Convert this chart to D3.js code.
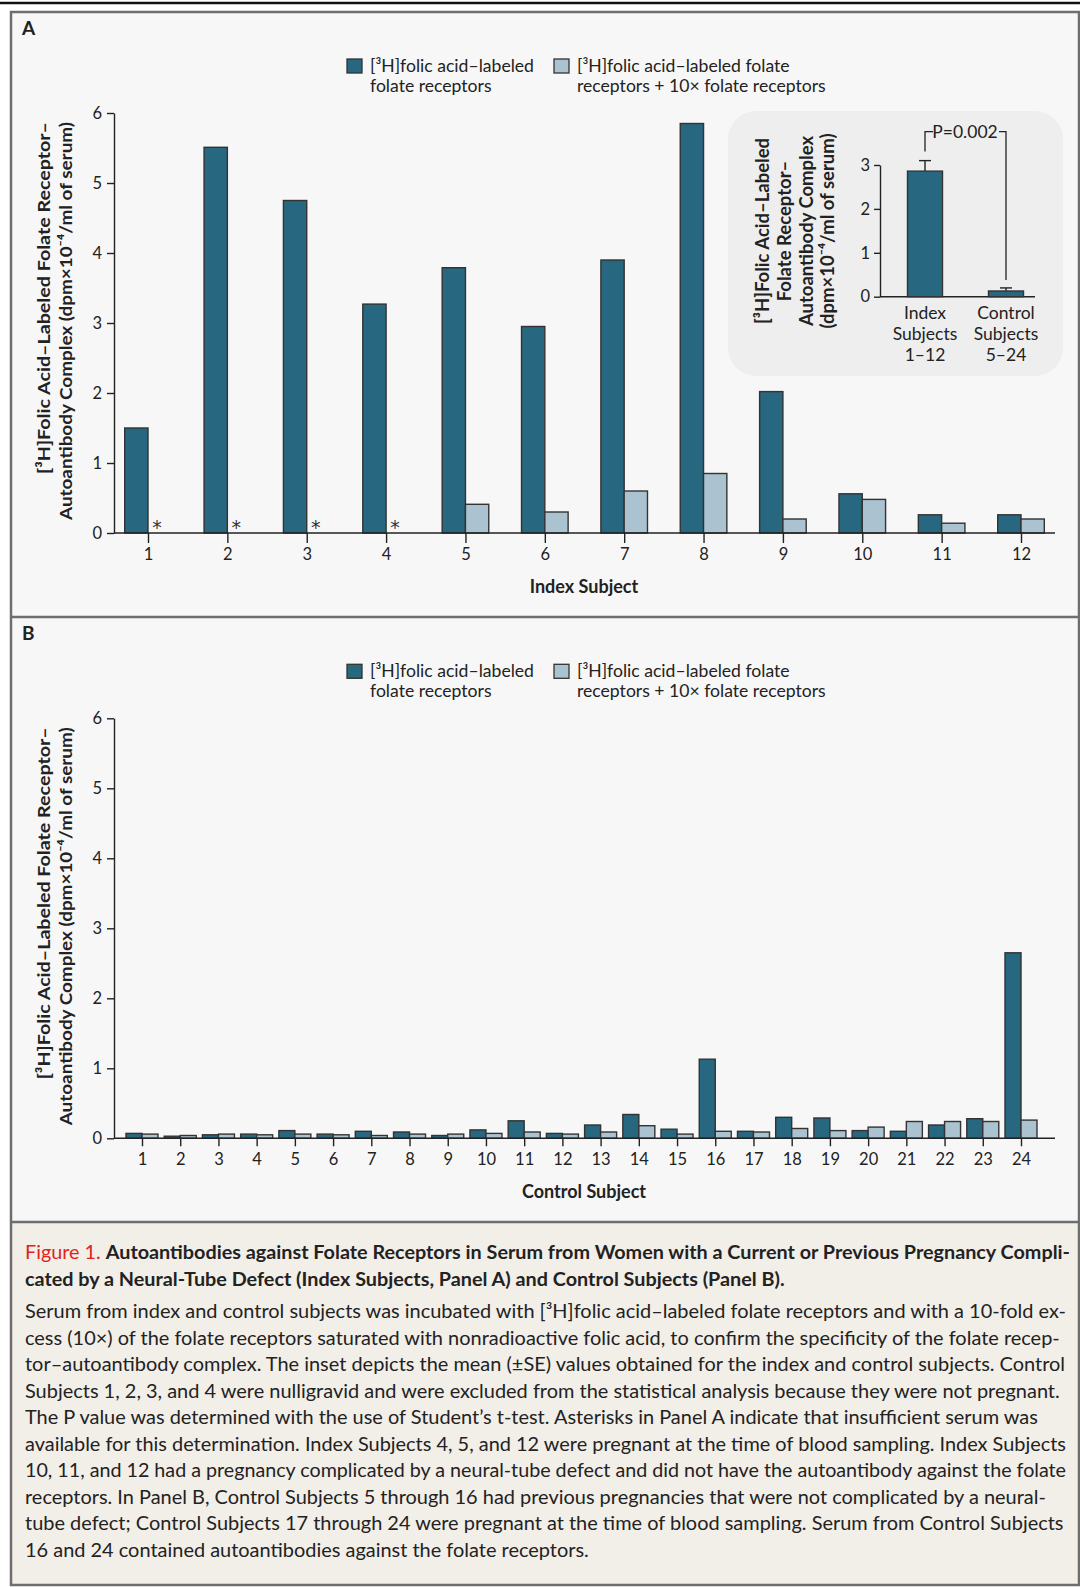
<!DOCTYPE html>
<html>
<head>
<meta charset="utf-8">
<script src="https://d3js.org/d3.v7.min.js"></script>
<style>
 body { margin:0; background:#fff; }
 svg text { font-family: Lato, "Open Sans", sans-serif; fill:#222; }
 .tick text { font-size:16.5px; }
</style>
</head>
<body>
<div id="chart"></div>
<script>
// data
var indexSubjects = ["1","2","3","4","5","6","7","8","9","10","11","12"];
var indexLabeled  = [1.50, 5.51, 4.75, 3.27, 3.79, 2.95, 3.90, 5.85, 2.02, 0.56, 0.26, 0.26];
var indexBlocked  = [null, null, null, null, 0.41, 0.30, 0.60, 0.85, 0.20, 0.48, 0.14, 0.20];

var controlSubjects = ["1","2","3","4","5","6","7","8","9","10","11","12",
                       "13","14","15","16","17","18","19","20","21","22","23","24"];
var controlLabeled = [0.07, 0.03, 0.05, 0.06, 0.11, 0.06, 0.10, 0.09, 0.04, 0.12, 0.25, 0.07,
                      0.19, 0.34, 0.13, 1.13, 0.10, 0.30, 0.29, 0.11, 0.10, 0.19, 0.28, 2.65];
var controlBlocked = [0.06, 0.04, 0.06, 0.05, 0.06, 0.05, 0.04, 0.06, 0.06, 0.07, 0.09, 0.06,
                      0.09, 0.18, 0.06, 0.10, 0.09, 0.14, 0.11, 0.16, 0.24, 0.24, 0.24, 0.26];

var yTicks = [0, 1, 2, 3, 4, 5, 6];

var insetGroups = [["Index", "Subjects", "1\u201312"], ["Control", "Subjects", "5\u201324"]];
var insetMeans = [2.86, 0.13];
var insetSE    = [0.24, 0.07];
var insetTicks = [0, 1, 2, 3];
var pLabel = "P=0.002";

var legendLabels = [["[\u00b3H]folic acid\u2013labeled", "folate receptors"],
                    ["[\u00b3H]folic acid\u2013labeled folate", "receptors + 10\u00d7 folate receptors"]];
var yTitle = ["[\u00b3H]Folic Acid\u2013Labeled Folate Receptor\u2013",
              "Autoantibody Complex (dpm\u00d710\u207b\u2074/ml of serum)"];
var insetYTitle = ["[\u00b3H]Folic Acid\u2013Labeled", "Folate Receptor\u2013",
                   "Autoantibody Complex", "(dpm\u00d710\u207b\u2074/ml of serum)"];

var captionTitle = [
  ["Figure 1. ", "Autoantibodies against Folate Receptors in Serum from Women with a Current or Previous Pregnancy Compli-"],
  ["", "cated by a Neural-Tube Defect (Index Subjects, Panel A) and Control Subjects (Panel B)."]
];
var captionBody = [
  "Serum from index and control subjects was incubated with [\u00b3H]folic acid\u2013labeled folate receptors and with a 10-fold ex-",
  "cess (10\u00d7) of the folate receptors saturated with nonradioactive folic acid, to confirm the specificity of the folate recep-",
  "tor\u2013autoantibody complex. The inset depicts the mean (\u00b1SE) values obtained for the index and control subjects. Control",
  "Subjects 1, 2, 3, and 4 were nulligravid and were excluded from the statistical analysis because they were not pregnant.",
  "The P value was determined with the use of Student\u2019s t-test. Asterisks in Panel A indicate that insufficient serum was",
  "available for this determination. Index Subjects 4, 5, and 12 were pregnant at the time of blood sampling. Index Subjects",
  "10, 11, and 12 had a pregnancy complicated by a neural-tube defect and did not have the autoantibody against the folate",
  "receptors. In Panel B, Control Subjects 5 through 16 had previous pregnancies that were not complicated by a neural-",
  "tube defect; Control Subjects 17 through 24 were pregnant at the time of blood sampling. Serum from Control Subjects",
  "16 and 24 contained autoantibodies against the folate receptors."
];

var dark = "#276780", light = "#abc3d0", edge = "#333";
var W = 1080, H = 1587;
var fmt = d3.format("d");

var svg = d3.select("#chart").append("svg").attr("width", W).attr("height", H);

// frame + backgrounds
svg.append("rect").attr("x", 0).attr("y", 0).attr("width", W).attr("height", H).attr("fill", "#fff");
svg.append("rect").attr("x", 11).attr("y", 12).attr("width", 1068).attr("height", 605).attr("fill", "#f7f7f7");
svg.append("rect").attr("x", 11).attr("y", 617).attr("width", 1068).attr("height", 605).attr("fill", "#f7f7f7");
svg.append("rect").attr("x", 11).attr("y", 1222).attr("width", 1068).attr("height", 363).attr("fill", "#f2eee8");
svg.append("line").attr("x1", 0).attr("x2", W).attr("y1", 3).attr("y2", 3).attr("stroke", "#111").attr("stroke-width", 2.5);
svg.append("rect").attr("x", 11).attr("y", 12).attr("width", 1068).attr("height", 1573)
   .attr("fill", "none").attr("stroke", "#6e6e6e").attr("stroke-width", 2.5);
[617, 1222].forEach(function(yy) {
  svg.append("line").attr("x1", 11).attr("x2", 1079).attr("y1", yy).attr("y2", yy)
     .attr("stroke", "#6e6e6e").attr("stroke-width", 2.5);
});

function fitText(sel, len) {
  sel.attr("textLength", len).attr("lengthAdjust", "spacingAndGlyphs");
}

function panel(opt) {
  var g = svg.append("g").attr("transform", "translate(0," + opt.dy + ")");
  g.append("text").attr("x", 22).attr("y", 35).attr("font-size", 19).attr("font-weight", 700).text(opt.letter);

  // legend
  [dark, light].forEach(function(c, i) {
    var lx = [347, 554][i];
    g.append("rect").attr("x", lx).attr("y", 59).attr("width", 15).attr("height", 14)
     .attr("fill", c).attr("stroke", edge).attr("stroke-width", 1.3);
    var t = g.append("text").attr("x", lx + 23).attr("y", 71.5).attr("font-size", 17.6);
    legendLabels[i].forEach(function(s, k) {
      t.append("tspan").attr("x", lx + 23).attr("dy", k ? 20.5 : 0).text(s);
    });
  });

  var y = d3.scaleLinear().domain([0, 6]).range([533, 113]);
  var x = d3.scalePoint().domain(opt.cats).range(opt.xr);
  var bw = opt.bw;

  g.append("g").attr("transform", "translate(114,0)")
   .call(d3.axisLeft(y).tickValues(yTicks).tickFormat(fmt).tickSize(7).tickSizeOuter(0).tickPadding(5))
   .call(function(a) { a.selectAll("path,line").attr("stroke", "#222").attr("stroke-width", 1.4); });

  var rows = opt.cats.map(function(c, i) { return {c: c, a: opt.a[i], b: opt.b[i]}; });
  g.selectAll(".da").data(rows).enter().append("rect")
   .attr("x", function(d) { return x(d.c) - bw; }).attr("width", bw)
   .attr("y", function(d) { return y(d.a); }).attr("height", function(d) { return y(0) - y(d.a); })
   .attr("fill", dark).attr("stroke", edge).attr("stroke-width", 1.4);
  g.selectAll(".lb").data(rows.filter(function(d) { return d.b != null; })).enter().append("rect")
   .attr("x", function(d) { return x(d.c); }).attr("width", bw)
   .attr("y", function(d) { return y(d.b); }).attr("height", function(d) { return y(0) - y(d.b); })
   .attr("fill", light).attr("stroke", edge).attr("stroke-width", 1.4);
  // asterisks: no serum left for the blocked assay
  g.selectAll(".ast").data(rows.filter(function(d) { return d.b == null; })).enter().append("text")
   .attr("x", function(d) { return x(d.c) + 9; }).attr("y", y(0) + 1)
   .attr("text-anchor", "middle").attr("font-size", 19)
   .style("font-family", "'DejaVu Sans'").style("fill", "#333").text("*");

  g.append("g").attr("transform", "translate(0," + y(0) + ")")
   .call(d3.axisBottom(x).tickSize(opt.tick).tickPadding(opt.pad))
   .call(function(a) {
     a.select(".domain").remove();
     a.selectAll("line").attr("stroke", "#222").attr("stroke-width", 1.4);
   });
  g.append("line").attr("x1", 114).attr("x2", 1055).attr("y1", y(0)).attr("y2", y(0))
   .attr("stroke", "#222").attr("stroke-width", 1.4);

  g.append("text").attr("x", 584).attr("y", opt.titleY).attr("text-anchor", "middle")
   .attr("font-size", 18).attr("font-weight", 700).text(opt.title);

  yTitle.forEach(function(s, k) {
    var t = g.append("text").attr("transform", "translate(" + [50, 71.5][k] + ",122) rotate(-90)")
     .attr("text-anchor", "end").attr("font-size", 17.8).attr("font-weight", 700).text(s);
    fitText(t, [352, 398][k]);
  });
  return g;
}

var gA = panel({dy: 0, letter: "A", cats: indexSubjects, a: indexLabeled, b: indexBlocked,
                xr: [148, 1021], bw: 23.3, tick: 10, pad: 5, title: "Index Subject", titleY: 593});
panel({dy: 605.3, letter: "B", cats: controlSubjects, a: controlLabeled, b: controlBlocked,
       xr: [142, 1021], bw: 16, tick: 8, pad: 7, title: "Control Subject", titleY: 593});

// inset in panel A
var inset = gA.append("g");
inset.append("rect").attr("x", 728).attr("y", 111).attr("width", 335).attr("height", 265)
     .attr("rx", 28).attr("fill", "#eeeeee");
var iy = d3.scaleLinear().domain([0, 3]).range([296.7, 165]);
var ix = d3.scalePoint().domain([0, 1]).range([925, 1006]);
inset.append("g").attr("transform", "translate(880,0)")
     .call(d3.axisLeft(iy).tickValues(insetTicks).tickFormat(fmt).tickSize(6).tickSizeOuter(0).tickPadding(4))
     .call(function(a) { a.selectAll("path,line").attr("stroke", "#222").attr("stroke-width", 1.4); });
inset.append("line").attr("x1", 880).attr("x2", 1035).attr("y1", iy(0)).attr("y2", iy(0))
     .attr("stroke", "#222").attr("stroke-width", 1.4);
insetMeans.forEach(function(m, i) {
  var cx = ix(i), top = iy(m + insetSE[i]);
  inset.append("line").attr("x1", cx).attr("x2", cx).attr("y1", iy(m)).attr("y2", top)
       .attr("stroke", "#222").attr("stroke-width", 1.4);
  inset.append("line").attr("x1", cx - 6).attr("x2", cx + 6).attr("y1", top).attr("y2", top)
       .attr("stroke", "#222").attr("stroke-width", 1.4);
  inset.append("rect").attr("x", cx - 17.5).attr("width", 35)
       .attr("y", iy(m)).attr("height", iy(0) - iy(m))
       .attr("fill", dark).attr("stroke", edge).attr("stroke-width", 1.4);
  var t = inset.append("text").attr("text-anchor", "middle").attr("font-size", 17.5);
  insetGroups[i].forEach(function(s, k) {
    t.append("tspan").attr("x", cx).attr("y", 319 + k * 21).text(s);
  });
});
// significance bracket
var by = 131.7;
inset.append("path")
     .attr("d", "M" + ix(0) + "," + (iy(insetMeans[0] + insetSE[0]) - 9) + "V" + by + "H" + (ix(0) + 8))
     .attr("fill", "none").attr("stroke", "#222").attr("stroke-width", 1.3);
inset.append("path")
     .attr("d", "M" + (ix(1) - 7) + "," + by + "H" + ix(1) + "V" + (iy(insetMeans[1] + insetSE[1]) - 8))
     .attr("fill", "none").attr("stroke", "#222").attr("stroke-width", 1.3);
inset.append("text").attr("x", 965).attr("y", by + 6).attr("text-anchor", "middle")
     .attr("font-size", 17.5).text(pLabel);
insetYTitle.forEach(function(s, k) {
  inset.append("text").attr("transform", "translate(" + [769, 791, 813, 834][k] + ",231) rotate(-90)")
       .attr("text-anchor", "middle").attr("font-size", 18.5).attr("font-weight", 700).text(s);
});

// caption
var cap = svg.append("g");
var titleK = 1;
captionTitle.forEach(function(p, k) {
  var t = cap.append("text").attr("x", 25).attr("y", 1259 + k * 27).attr("font-size", 19.5);
  if (p[0]) t.append("tspan").attr("fill", "#e2231a").style("fill", "#e2231a").text(p[0]);
  t.append("tspan").attr("font-weight", 700).text(p[1]);
  var w = t.node().getComputedTextLength();
  if (k === 0) titleK = 1045 / w;
  fitText(t, w * titleK);
});
var bodyK = null;
captionBody.forEach(function(s, i) {
  var t = cap.append("text").attr("x", 25).attr("y", 1318 + i * 26.5).attr("font-size", 19.5).text(s);
  var w = t.node().getComputedTextLength();
  if (bodyK == null) bodyK = 1041 / w;
  fitText(t, Math.min(w * bodyK, 1041));
});
</script>
</body>
</html>
